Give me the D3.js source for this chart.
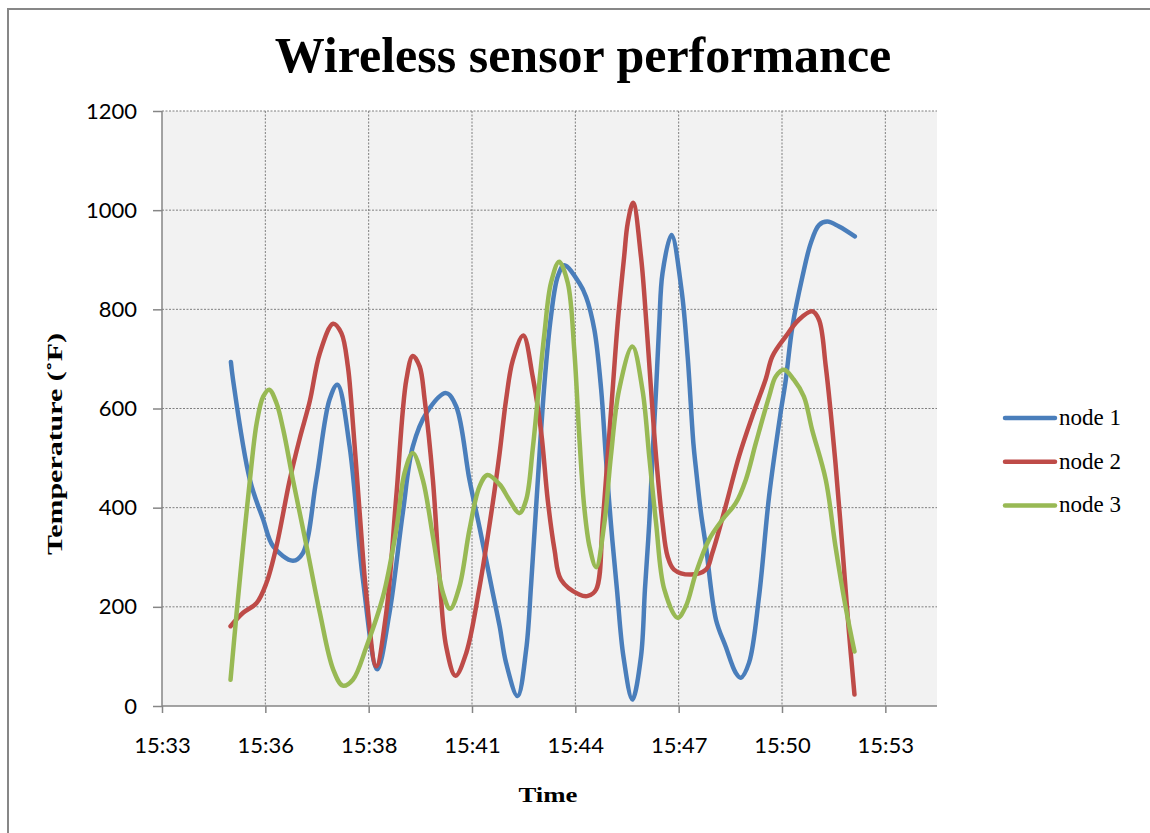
<!DOCTYPE html>
<html>
<head>
<meta charset="utf-8">
<title>Wireless sensor performance</title>
<script src="https://cdn.jsdelivr.net/npm/d3@7"></script>
<style>
  body { margin: 0; background: #fff; }
  svg { display: block; }
</style>
</head>
<body>
<svg id="chart" width="1150" height="833"></svg>
<script>
// readings: [minutes past 15:00, temperature in ˚F]
const node1 = [
  [35.10, 694], [35.16, 658], [35.63, 456], [36.00, 376], [36.28, 322], [36.83, 293],
  [37.11, 309], [37.48, 456], [37.85, 618], [38.07, 648], [38.41, 523], [38.78, 255],
  [39.18, 74], [39.52, 188], [39.89, 389], [40.17, 523], [40.55, 591], [41.10, 631],
  [41.38, 604], [41.75, 456], [42.03, 360], [42.40, 228], [42.59, 161], [42.77, 87],
  [43.09, 20], [43.33, 114], [43.47, 248], [43.65, 450], [43.84, 651], [44.02, 785],
  [44.21, 866], [44.39, 889], [44.81, 853], [45.00, 825], [45.23, 759], [45.42, 638],
  [45.55, 503], [45.69, 369], [45.86, 235], [46.04, 100], [46.29, 13], [46.53, 100],
  [46.64, 235], [46.76, 369], [46.85, 503], [46.95, 638], [47.04, 772], [47.13, 873],
  [47.38, 950], [47.66, 839], [47.83, 705], [47.99, 530], [48.06, 480], [48.20, 390],
  [48.34, 322], [48.62, 174], [48.89, 120], [49.17, 67], [49.31, 57], [49.54, 87],
  [49.82, 221], [50.10, 423], [50.42, 591], [50.56, 655], [50.75, 765], [51.03, 866],
  [51.26, 933], [51.49, 970], [51.72, 977], [52.05, 967], [52.49, 947]
];
const node2 = [
  [35.09, 161], [35.44, 188], [35.82, 208], [36.09, 248], [36.37, 322], [36.74, 456],
  [37.02, 540], [37.30, 615], [37.58, 712], [37.95, 771], [38.18, 752], [38.36, 685],
  [38.45, 618], [38.69, 389], [38.88, 221], [39.15, 80], [39.43, 188], [39.71, 423],
  [39.99, 658], [40.17, 706], [40.36, 685], [40.50, 618], [40.73, 456], [40.92, 255],
  [41.10, 120], [41.36, 61], [41.66, 107], [42.03, 240], [42.40, 410], [42.59, 510],
  [42.77, 618], [42.96, 698], [43.25, 747], [43.51, 665], [43.75, 551], [43.93, 416],
  [44.12, 315], [44.30, 255], [44.81, 225], [45.05, 222], [45.28, 235], [45.46, 369],
  [45.60, 503], [45.74, 638], [45.88, 772], [46.06, 906], [46.16, 974], [46.31, 1015],
  [46.53, 906], [46.68, 772], [46.81, 638], [46.95, 503], [47.13, 369], [47.27, 302],
  [47.45, 275], [47.92, 265], [48.34, 275], [48.52, 309], [48.89, 403], [49.26, 503],
  [49.63, 584], [50.01, 660], [50.19, 705], [50.56, 745], [50.93, 779], [51.30, 796],
  [51.49, 779], [51.68, 685], [51.95, 490], [52.14, 322], [52.32, 154], [52.48, 23]
];
const node3 = [
  [35.09, 53], [35.26, 188], [35.44, 322], [35.63, 456], [35.82, 571], [36.00, 624],
  [36.17, 638], [36.37, 611], [36.56, 557], [36.83, 456], [37.21, 322], [37.58, 188],
  [37.95, 74], [38.22, 41], [38.50, 53], [38.88, 120], [39.34, 221], [39.71, 356],
  [39.94, 470], [40.17, 510], [40.45, 456], [40.73, 342], [41.01, 228], [41.21, 196],
  [41.47, 241], [41.75, 356], [42.03, 443], [42.25, 466], [42.59, 447], [42.86, 416],
  [43.14, 389], [43.33, 416], [43.51, 517], [43.65, 618], [43.84, 752], [44.02, 853],
  [44.25, 896], [44.49, 853], [44.67, 718], [44.81, 544], [44.95, 400], [45.10, 320],
  [45.28, 280], [45.51, 369], [45.69, 503], [45.92, 638], [46.29, 725], [46.57, 638],
  [46.76, 503], [46.95, 369], [47.18, 235], [47.55, 178], [47.78, 201], [48.06, 268],
  [48.43, 336], [48.80, 376], [49.17, 409], [49.45, 456], [49.73, 530], [50.10, 624],
  [50.29, 665], [50.52, 678], [50.79, 658], [51.07, 624], [51.30, 557], [51.68, 456],
  [51.95, 322], [52.23, 201], [52.48, 110]
];

const seriesNames = ['node 1', 'node 2', 'node 3'];
const seriesColors = ['#4a7ebb', '#be4b48', '#98b954'];

// Excel date axis: major unit of 0.002 day (2.88 min), labels shown as h:mm
const xAxisStart = 33.18;
const xMajorUnit = 2.88;
const xAxisEnd = 54.78;
const xTickLabels = ['15:33', '15:36', '15:38', '15:41', '15:44', '15:47', '15:50', '15:53'];
const yTickValues = [0, 200, 400, 600, 800, 1000, 1200];

class LineChart {
  constructor(_config, _series) {
    this.config = {
      parentElementSelector: _config.parentElementSelector,
      margin: _config.margin || { top: 111, right: 213, bottom: 127, left: 162 },
    };
    this.series = _series;
    this.initVis();
  }

  initVis() {
    const vis = this;
    vis.svg = d3.select(vis.config.parentElementSelector);
    const w = +vis.svg.attr('width');
    const h = +vis.svg.attr('height');
    vis.width = w - vis.config.margin.left - vis.config.margin.right;
    vis.height = h - vis.config.margin.top - vis.config.margin.bottom;

    // outer chart border (cut by the right and bottom of the picture)
    vis.svg.append('rect')
      .attr('x', 8).attr('y', 9)
      .attr('width', w + 10).attr('height', h + 10)
      .attr('fill', '#fff')
      .attr('stroke', '#878787')
      .attr('stroke-width', 2);

    vis.xScale = d3.scaleLinear()
      .domain([xAxisStart, xAxisEnd])
      .range([0, vis.width]);
    vis.yScale = d3.scaleLinear()
      .domain([0, 1200])
      .range([vis.height, 0]);

    vis.chart = vis.svg.append('g')
      .attr('transform', `translate(${vis.config.margin.left},${vis.config.margin.top})`);

    vis.chart.append('rect')
      .attr('width', vis.width)
      .attr('height', vis.height)
      .attr('fill', '#f2f2f2');

    vis.xTickValues = xTickLabels.map((d, i) => xAxisStart + i * xMajorUnit);

    vis.updateVis();
  }

  updateVis() {
    const vis = this;
    const gridColor = '#7f7f7f';

    // gridlines
    vis.chart.append('g')
      .selectAll('line')
      .data(yTickValues.filter((d) => d > 0))
      .join('line')
      .attr('x1', 0).attr('x2', vis.width)
      .attr('y1', (d) => vis.yScale(d)).attr('y2', (d) => vis.yScale(d))
      .attr('stroke', gridColor)
      .attr('stroke-width', 1)
      .attr('stroke-dasharray', '2,1.5');

    vis.chart.append('g')
      .selectAll('line')
      .data(vis.xTickValues.slice(1))
      .join('line')
      .attr('x1', (d) => vis.xScale(d)).attr('x2', (d) => vis.xScale(d))
      .attr('y1', 0).attr('y2', vis.height)
      .attr('stroke', gridColor)
      .attr('stroke-width', 1)
      .attr('stroke-dasharray', '2,1.5');

    // axes
    const yAxis = d3.axisLeft(vis.yScale)
      .tickValues(yTickValues)
      .tickSize(9)
      .tickPadding(16)
      .tickFormat(d3.format('d'));
    const xAxis = d3.axisBottom(vis.xScale)
      .tickValues(vis.xTickValues)
      .tickSize(7)
      .tickPadding(24)
      .tickFormat((d, i) => xTickLabels[i]);

    const yG = vis.chart.append('g').call(yAxis);
    const xG = vis.chart.append('g')
      .attr('transform', `translate(0,${vis.height})`)
      .call(xAxis);

    [xG, yG].forEach((g) => {
      g.select('.domain').attr('stroke', '#868686').attr('stroke-width', 1.5);
      g.selectAll('.tick line').attr('stroke', '#868686').attr('stroke-width', 1.5);
      g.selectAll('.tick text')
        .attr('fill', '#000')
        .style('font-family', 'Lato, "Liberation Sans", sans-serif')
        .style('font-size', '22px');
    });
    xG.select('.domain').attr('d', `M0,0H${vis.width}`);
    yG.select('.domain').attr('d', `M0,${vis.height}V0`);

    // series lines
    const line = d3.line()
      .x((d) => vis.xScale(d[0]))
      .y((d) => vis.yScale(d[1]))
      .curve(d3.curveCatmullRom.alpha(0.5));

    vis.chart.append('g')
      .selectAll('path')
      .data(vis.series)
      .join('path')
      .attr('d', (d) => line(d))
      .attr('fill', 'none')
      .attr('stroke', (d, i) => seriesColors[i])
      .attr('stroke-width', 4.5)
      .attr('stroke-linejoin', 'round')
      .attr('stroke-linecap', 'round');

    // titles
    const serif = '"Liberation Serif", "Times New Roman", serif';
    vis.svg.append('text')
      .attr('x', 583).attr('y', 72)
      .attr('text-anchor', 'middle')
      .style('font-family', serif)
      .style('font-weight', 'bold')
      .style('font-size', '50px')
      .text('Wireless sensor performance');

    vis.svg.append('text')
      .attr('transform', 'translate(62,444) rotate(-90)')
      .attr('text-anchor', 'middle')
      .attr('textLength', 222)
      .attr('lengthAdjust', 'spacingAndGlyphs')
      .style('font-family', serif)
      .style('font-weight', 'bold')
      .style('font-size', '22px')
      .text('Temperature (˚F)');

    vis.svg.append('text')
      .attr('x', 548).attr('y', 802)
      .attr('text-anchor', 'middle')
      .attr('textLength', 59)
      .attr('lengthAdjust', 'spacingAndGlyphs')
      .style('font-family', serif)
      .style('font-weight', 'bold')
      .style('font-size', '22px')
      .text('Time');

    // legend
    const legend = vis.svg.append('g')
      .attr('transform', 'translate(1005,418)');
    const items = legend.selectAll('g')
      .data(seriesNames)
      .join('g')
      .attr('transform', (d, i) => `translate(0,${i * 43.7})`);
    items.append('line')
      .attr('x1', 0).attr('x2', 50)
      .attr('stroke', (d, i) => seriesColors[i])
      .attr('stroke-width', 4.5)
      .attr('stroke-linecap', 'round');
    items.append('text')
      .attr('x', 54).attr('y', 7)
      .style('font-family', serif)
      .style('font-size', '23px')
      .text((d) => d);
  }
}

const chart = new LineChart({ parentElementSelector: '#chart' }, [node1, node2, node3]);
</script>
</body>
</html>
